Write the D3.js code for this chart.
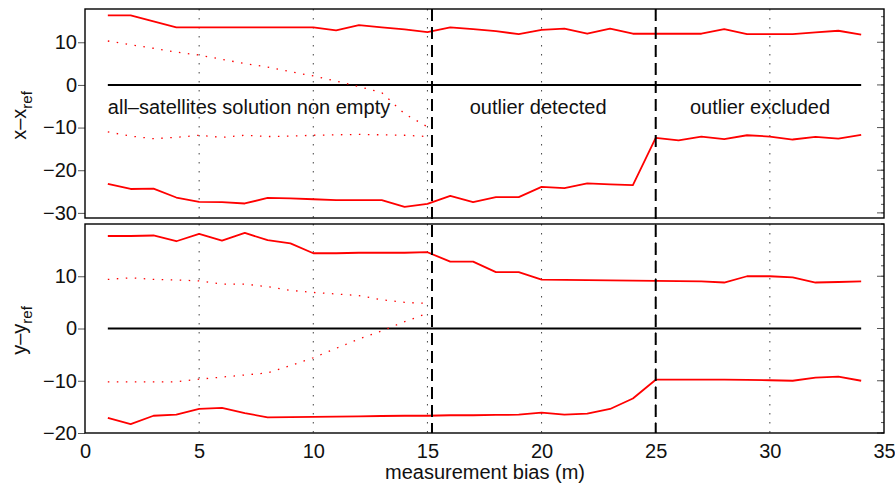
<!DOCTYPE html>
<html>
<head>
<meta charset="utf-8">
<script src="https://cdn.jsdelivr.net/npm/d3@7/dist/d3.min.js"></script>
<style>
  html, body { margin: 0; padding: 0; background: #fff; }
  svg { display: block; font-family: "Liberation Sans", Arial, Helvetica, sans-serif; }
</style>
</head>
<body>
<svg id="chart" width="895" height="488"></svg>
<script>
// measurement bias (m)
const bias = [1,2,3,4,5,6,7,8,9,10,11,12,13,14,15,16,17,18,19,20,21,22,23,24,25,26,27,28,29,30,31,32,33,34];

// x − x_ref bounds
const xUpper = [16.3,16.3,14.9,13.5,13.5,13.5,13.5,13.5,13.5,13.5,12.8,14.0,13.5,13.0,12.4,13.5,13.1,12.6,11.9,12.9,13.2,12.0,13.2,12.0,12.0,12.0,12.0,13.1,11.9,11.9,11.9,12.3,12.7,11.8];
const xLower = [-23.2,-24.4,-24.3,-26.4,-27.4,-27.5,-27.8,-26.5,-26.6,-26.8,-27.0,-27.0,-27.0,-28.6,-27.9,-26.0,-27.5,-26.3,-26.3,-23.9,-24.2,-23.1,-23.3,-23.5,-12.4,-13.0,-12.1,-12.7,-11.8,-12.1,-12.8,-12.2,-12.6,-11.7];
// all-satellites solution bounds (bias 1..15)
const xAllUpper = [10.3,9.4,8.6,7.7,7.0,6.0,5.0,4.2,3.1,2.1,0.9,-0.4,-1.8,-6.8,-9.8];
const xAllLower = [-11.0,-12.0,-12.6,-12.3,-11.8,-12.3,-11.8,-12.1,-12.0,-11.8,-11.7,-11.6,-11.7,-11.8,-12.1];

// y − y_ref bounds
const yUpper = [17.7,17.7,17.8,16.7,18.1,16.8,18.3,16.9,16.3,14.4,14.4,14.5,14.5,14.5,14.6,12.8,12.8,10.8,10.8,9.35,9.3,9.25,9.2,9.15,9.1,9.05,9.0,8.8,10.0,10.0,9.8,8.8,8.9,9.0];
const yLower = [-17.1,-18.3,-16.7,-16.5,-15.4,-15.2,-16.2,-17.0,-16.95,-16.9,-16.85,-16.8,-16.75,-16.7,-16.7,-16.6,-16.6,-16.55,-16.5,-16.1,-16.5,-16.3,-15.4,-13.4,-9.8,-9.8,-9.8,-9.8,-9.85,-9.9,-10.0,-9.4,-9.2,-10.0];
const yAllUpper = [9.4,9.7,9.4,9.3,9.1,8.5,8.5,8.0,7.3,6.9,6.6,6.3,5.5,5.0,4.8];
const yAllLower = [-10.2,-10.2,-10.2,-10.2,-9.7,-9.3,-8.9,-8.5,-7.1,-5.6,-3.8,-2.0,-0.45,1.3,2.9];

// phase boundaries and labels
const phaseBounds = [15.2, 25];
const phaseLabels = ["all\u2013satellites solution non empty", "outlier detected", "outlier excluded"];
const phaseLabelX = [1, 19.85, 29.57];

const xTicks = [0,5,10,15,20,25,30,35];
const gridX = [5,10,15,20,25,30];
const topTicks = [-30,-20,-10,0,10];
const botTicks = [-20,-10,0,10];

const FONT = "'Liberation Sans', Arial, sans-serif";
const svg = d3.select("#chart");
const L = 85, R = 884;
const x = d3.scaleLinear().domain([0, 35]).range([L, R]);

const panels = [
  { top: 9, bottom: 218, domain: [-31.2, 17.8], ticks: topTicks, minor: d3.range(-30, 18, 2),
    upper: xUpper, lower: xLower, allU: xAllUpper, allL: xAllLower, label: ["x\u2013x", "ref"] },
  { top: 224, bottom: 433, domain: [-20, 20], ticks: botTicks, minor: d3.range(-20, 21, 2),
    upper: yUpper, lower: yLower, allU: yAllUpper, allL: yAllLower, label: ["y\u2013y", "ref"] }
];

const line = (ys) => d3.line().x((d, i) => x(bias[i])).y(d => ys(d));

panels.forEach((p, k) => {
  const y = d3.scaleLinear().domain(p.domain).range([p.bottom, p.top]);
  const g = svg.append("g");

  // vertical dotted grid
  g.selectAll(".grid").data(gridX).join("line")
    .attr("x1", d => x(d)).attr("x2", d => x(d))
    .attr("y1", p.top).attr("y2", p.bottom)
    .attr("stroke", "#444").attr("stroke-width", 1)
    .attr("stroke-dasharray", "1.5,7.5");

  // zero reference
  g.append("line")
    .attr("x1", x(1)).attr("x2", x(34))
    .attr("y1", y(0)).attr("y2", y(0))
    .attr("stroke", "#000").attr("stroke-width", 2);

  // solid bounds
  [p.upper, p.lower].forEach(s => {
    g.append("path").datum(s).attr("d", line(y))
      .attr("fill", "none").attr("stroke", "#ff0000").attr("stroke-width", 1.8)
      .attr("stroke-linejoin", "round");
  });
  // dotted all-satellites bounds
  [p.allU, p.allL].forEach(s => {
    g.append("path").datum(s).attr("d", line(y))
      .attr("fill", "none").attr("stroke", "#ff0000").attr("stroke-width", 1.3)
      .attr("stroke-dasharray", "1.5,7.5");
  });

  // left axis (ticks outward)
  const la = d3.axisLeft(y).tickValues(p.ticks).tickSize(7).tickPadding(1)
    .tickFormat(d => d < 0 ? "\u2212" + Math.abs(d) : d);
  const ga = g.append("g").attr("transform", `translate(${L},0)`).call(la);
  ga.select(".domain").remove();
  ga.selectAll(".tick line").attr("stroke", "#555");
  ga.selectAll(".tick text").attr("font-size", 20).attr("fill", "#111")
    .attr("font-family", FONT);

  // right axis ticks (inward), with minor ticks
  const ra = g.append("g").attr("transform", `translate(${R},0)`);
  ra.selectAll(".minor").data(p.minor).join("line")
    .attr("x1", 0).attr("x2", -3).attr("y1", d => y(d)).attr("y2", d => y(d))
    .attr("stroke", "#555");
  ra.selectAll(".major").data(p.ticks).join("line")
    .attr("x1", 0).attr("x2", -7).attr("y1", d => y(d)).attr("y2", d => y(d))
    .attr("stroke", "#555");

  // frame
  g.append("rect").attr("x", L).attr("y", p.top)
    .attr("width", R - L).attr("height", p.bottom - p.top)
    .attr("fill", "none").attr("stroke", "#000").attr("stroke-width", 1.4);

  // y label with subscript
  const cy = (p.top + p.bottom) / 2;
  const t = svg.append("text")
    .attr("transform", `translate(26,${cy + 2}) rotate(-90)`)
    .attr("text-anchor", "middle").attr("font-size", 20).attr("fill", "#111");
  t.append("tspan").text(p.label[0]);
  t.append("tspan").text(p.label[1]).attr("font-size", 15).attr("dy", 6);

  if (k === 1) {
    const xa = d3.axisBottom(x).tickValues(xTicks).tickSize(0).tickPadding(11);
    const gx = svg.append("g").attr("transform", `translate(0,${p.bottom})`).call(xa);
    gx.select(".domain").remove();
    gx.selectAll(".tick text").attr("font-size", 20).attr("fill", "#111")
      .attr("font-family", FONT);
  }

  if (k === 0) {
    svg.selectAll(".phase").data(phaseLabels).join("text")
      .attr("x", (d, i) => x(phaseLabelX[i]))
      .attr("y", y(-6.7))
      .attr("text-anchor", (d, i) => i === 0 ? "start" : "middle")
      .attr("font-size", 20).attr("fill", "#111")
      .text(d => d);
  }
});

// phase boundaries across both panels
svg.selectAll(".bound").data(phaseBounds).join("line")
  .attr("x1", d => x(d)).attr("x2", d => x(d))
  .attr("y1", 9).attr("y2", 433)
  .attr("stroke", "#000").attr("stroke-width", 2)
  .attr("stroke-dasharray", "12,6");

// x-axis title
svg.append("text").attr("x", 485).attr("y", 479)
  .attr("text-anchor", "middle").attr("font-size", 20).attr("fill", "#111")
  .text("measurement bias (m)");
</script>
</body>
</html>
